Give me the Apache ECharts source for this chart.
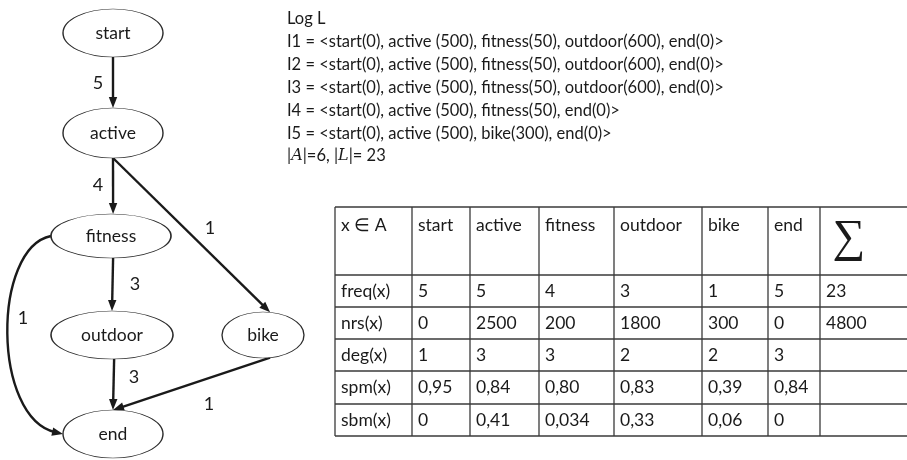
<!DOCTYPE html>
<html>
<head>
<meta charset="utf-8">
<script src="https://cdn.jsdelivr.net/npm/echarts@6/dist/echarts.min.js"></script>
<style>
  html, body { margin: 0; padding: 0; background: #fff; }
  #main { width: 907px; height: 460px; }
</style>
</head>
<body>
<div id="main"></div>
<script>
// ---- data ----
const activities = ['start', 'active', 'fitness', 'outdoor', 'bike', 'end']
const edgeFrom = ['start', 'active', 'active', 'fitness', 'fitness', 'outdoor', 'bike']
const edgeTo = ['active', 'fitness', 'bike', 'outdoor', 'end', 'end', 'end']
const edgeWeight = [5, 4, 1, 3, 1, 3, 1]

const logTitle = 'Log L'
const traceLines = [
  'I1 = <start(0), active (500), fitness(50), outdoor(600), end(0)>',
  'I2 = <start(0), active (500), fitness(50), outdoor(600), end(0)>',
  'I3 = <start(0), active (500), fitness(50), outdoor(600), end(0)>',
  'I4 = <start(0), active (500), fitness(50), end(0)>',
  'I5 = <start(0), active (500), bike(300), end(0)>'
]
const setSize = 6
const logSize = 23

const tableHeader = ['x ∈ A', 'start', 'active', 'fitness', 'outdoor', 'bike', 'end', '∑']
const rowLabels = ['freq(x)', 'nrs(x)', 'deg(x)', 'spm(x)', 'sbm(x)']
const freq = ['5', '5', '4', '3', '1', '5', '23']
const nrs = ['0', '2500', '200', '1800', '300', '0', '4800']
const deg = ['1', '3', '3', '2', '2', '3', '']
const spm = ['0,95', '0,84', '0,80', '0,83', '0,39', '0,84', '']
const sbm = ['0', '0,41', '0,034', '0,33', '0,06', '0', '']
const tableRows = [freq, nrs, deg, spm, sbm]

// ---- layout ----
const nodePos = {
  start: [113, 33], active: [113, 133], fitness: [111, 236],
  outdoor: [112, 335], bike: [263, 335], end: [113, 434]
}
const nodeSize = {
  start: [100, 48], active: [100, 50], fitness: [120, 44],
  outdoor: [122, 48], bike: [82, 46], end: [100, 48]
}
// port angles on the ellipse (deg, screen coords: 90 = bottom, 270 = top, 180 = left)
const edgePorts = [[90, 270], [90, 272], [90, 280], [88, 270], [180, 180], [88, 270], [80, 270]]
// bezier control points for the curved edge fitness -> end
const curveCtrl = { 4: [[-8, 248], [-8, 418]] }
const edgeLabelPos = [[98, 83], [98, 185], [210, 228], [135, 284], [23, 318], [134, 377], [209, 404]]

const colX = [335, 412, 470, 539, 614, 702, 768, 820, 930]
const rowY = [207, 275, 307, 339, 371, 404, 436]

const FONT = 'Lato'
const INK = '#1a1a1a'
const ellipsePath = 'path://M0,50 C0,22.4 22.4,0 50,0 C77.6,0 100,22.4 100,50 C100,77.6 77.6,100 50,100 C22.4,100 0,77.6 0,50 Z'

const myChart = echarts.init(document.getElementById('main'))

function portPoint (name, angle, api) {
  const c = api.coord(nodePos[name])
  const s = nodeSize[name]
  const t = angle * Math.PI / 180
  return [c[0] + s[0] / 2 * Math.cos(t), c[1] + s[1] / 2 * Math.sin(t)]
}

function renderEdge (params, api) {
  const i = params.dataIndex
  const a = portPoint(edgeFrom[i], edgePorts[i][0], api)
  const b = portPoint(edgeTo[i], edgePorts[i][1], api)
  const ctrl = curveCtrl[i] && curveCtrl[i].map((p) => api.coord(p))
  // 箭头方向
  const tail = ctrl ? ctrl[1] : a
  let dx = b[0] - tail[0]
  let dy = b[1] - tail[1]
  const len = Math.sqrt(dx * dx + dy * dy)
  dx /= len
  dy /= len
  const headLen = 11
  const headW = 4.2
  const base = [b[0] - dx * headLen, b[1] - dy * headLen]
  const lineEnd = [b[0] - dx * headLen * 0.7, b[1] - dy * headLen * 0.7]
  const lineStyle = { stroke: INK, lineWidth: 2.4, fill: null }
  const children = []
  if (ctrl) {
    children.push({
      type: 'bezierCurve',
      shape: { x1: a[0], y1: a[1], cpx1: ctrl[0][0], cpy1: ctrl[0][1], cpx2: ctrl[1][0], cpy2: ctrl[1][1], x2: lineEnd[0], y2: lineEnd[1] },
      style: lineStyle
    })
  } else {
    children.push({
      type: 'line',
      shape: { x1: a[0], y1: a[1], x2: lineEnd[0], y2: lineEnd[1] },
      style: lineStyle
    })
  }
  children.push({
    type: 'polygon',
    shape: { points: [b, [base[0] - dy * headW, base[1] + dx * headW], [base[0] + dy * headW, base[1] - dx * headW]] },
    style: { fill: INK }
  })
  const lp = api.coord(edgeLabelPos[i])
  children.push({
    type: 'text',
    x: lp[0],
    y: lp[1],
    style: { text: String(edgeWeight[i]), fill: INK, font: '18px ' + FONT, align: 'center', verticalAlign: 'middle' }
  })
  return { type: 'group', children }
}

// ---- text block and table as graphic elements ----
const textFont = '16.5px ' + FONT
const cellFont = '17.5px ' + FONT
const graphics = []
graphics.push({ type: 'text', x: 287, y: 19, style: { text: logTitle, fill: INK, font: textFont, verticalAlign: 'middle' } })
traceLines.forEach((line, k) => {
  graphics.push({ type: 'text', x: 287, y: 42 + k * 22.8, style: { text: line, fill: INK, font: textFont, verticalAlign: 'middle' } })
})
graphics.push({
  type: 'text',
  x: 287,
  y: 156,
  style: {
    text: '|{m|A}|=' + setSize + ', |{m|L}|= ' + logSize,
    fill: INK,
    font: textFont,
    verticalAlign: 'middle',
    rich: { m: { fontFamily: 'DejaVu Serif', fontStyle: 'italic', fontSize: 16, fill: INK } }
  }
})

const gridColor = '#3a3a3a'
colX.forEach((x) => {
  graphics.push({ type: 'line', shape: { x1: x, y1: rowY[0], x2: x, y2: rowY[rowY.length - 1] }, style: { stroke: gridColor, lineWidth: 1.3 } })
})
rowY.forEach((y) => {
  graphics.push({ type: 'line', shape: { x1: colX[0], y1: y, x2: colX[colX.length - 1], y2: y }, style: { stroke: gridColor, lineWidth: 1.3 } })
})
tableHeader.forEach((h, c) => {
  if (h === '∑') {
    graphics.push({ type: 'text', x: colX[c] + 29, y: 239, style: { text: h, fill: INK, font: '46px "Liberation Serif"', align: 'center', verticalAlign: 'middle' } })
  } else {
    graphics.push({ type: 'text', x: colX[c] + 6, y: 225, style: { text: h, fill: INK, font: cellFont, verticalAlign: 'middle' } })
  }
})
tableRows.forEach((row, r) => {
  const cy = (rowY[r + 1] + rowY[r + 2]) / 2
  graphics.push({ type: 'text', x: colX[0] + 6, y: cy, style: { text: rowLabels[r], fill: INK, font: cellFont, verticalAlign: 'middle' } })
  row.forEach((v, c) => {
    if (v === '') return
    graphics.push({ type: 'text', x: colX[c + 1] + 6, y: cy, style: { text: v, fill: INK, font: cellFont, verticalAlign: 'middle' } })
  })
})

myChart.setOption({
  animation: false,
  backgroundColor: '#fff',
  grid: { left: 0, right: 0, top: 0, bottom: 0 },
  xAxis: { type: 'value', min: 0, max: 907, show: false },
  yAxis: { type: 'value', min: 0, max: 460, inverse: true, show: false },
  graphic: graphics,
  series: [
    {
      type: 'custom',
      coordinateSystem: 'cartesian2d',
      data: edgeFrom.map((f, i) => [i, 0]),
      renderItem: renderEdge,
      silent: true,
      z: 2
    },
    {
      type: 'graph',
      coordinateSystem: 'cartesian2d',
      symbol: ellipsePath,
      data: activities.map((n) => ({ name: n, value: nodePos[n], symbolSize: nodeSize[n] })),
      links: [],
      itemStyle: { color: '#fff', borderColor: '#2b2b2b', borderWidth: 1 },
      label: { show: true, position: 'inside', formatter: '{b}', color: INK, fontSize: 17.5, fontFamily: FONT },
      silent: true,
      z: 3
    }
  ]
})
</script>
</body>
</html>
